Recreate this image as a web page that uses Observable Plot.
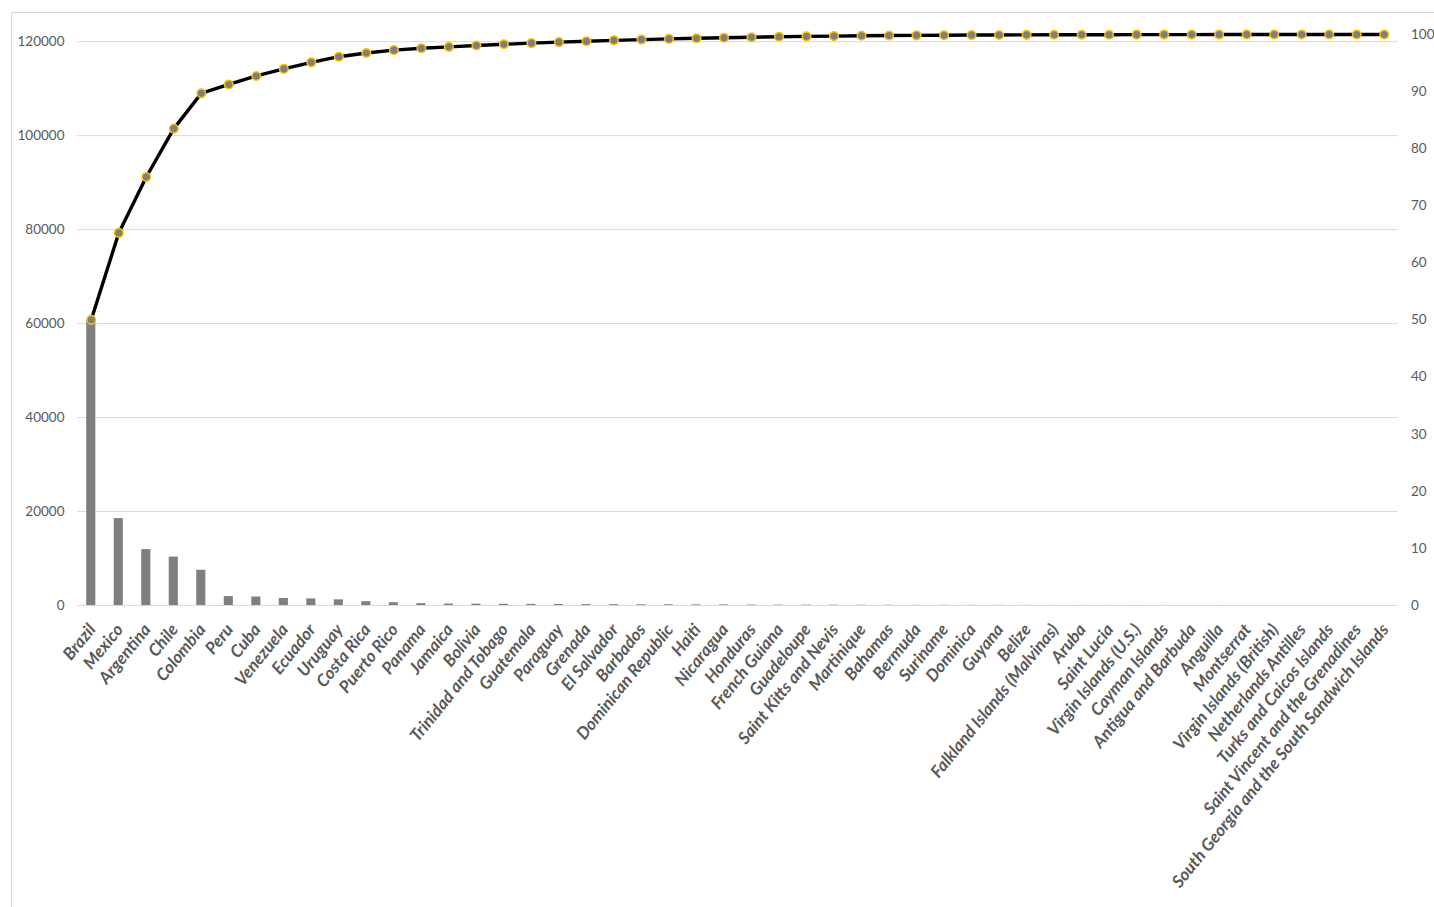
<!DOCTYPE html>
<html>
<head>
<meta charset="utf-8">
<script src="https://cdn.jsdelivr.net/npm/d3@7"></script>
<script src="https://cdn.jsdelivr.net/npm/@observablehq/plot@0.6"></script>
<style>
  html, body { margin: 0; padding: 0; background: #fff; overflow: hidden; }
  #frame { position: absolute; left: 11px; top: 12px; width: 1440px; height: 900px; border: 1.5px solid #d9d9d9; box-sizing: border-box; }
  #chart { position: absolute; left: 0; top: 0; }
</style>
</head>
<body>
<div id="frame"></div>
<div id="chart"></div>
<script>
const countries = [
  "Brazil", "Mexico", "Argentina", "Chile", "Colombia", "Peru", "Cuba", "Venezuela",
  "Ecuador", "Uruguay", "Costa Rica", "Puerto Rico", "Panama", "Jamaica", "Bolivia",
  "Trinidad and Tobago", "Guatemala", "Paraguay", "Grenada", "El Salvador", "Barbados",
  "Dominican Republic", "Haiti", "Nicaragua", "Honduras", "French Guiana", "Guadeloupe",
  "Saint Kitts and Nevis", "Martinique", "Bahamas", "Bermuda", "Suriname", "Dominica",
  "Guyana", "Belize", "Falkland Islands (Malvinas)", "Aruba", "Saint Lucia",
  "Virgin Islands (U.S.)", "Cayman Islands", "Antigua and Barbuda", "Anguilla",
  "Montserrat", "Virgin Islands (British)", "Netherlands Antilles",
  "Turks and Caicos Islands", "Saint Vincent and the Grenadines",
  "South Georgia and the South Sandwich Islands"
];
const values = [
  60800, 18500, 11900, 10300, 7500, 1900, 1800, 1500,
  1400, 1200, 800, 600, 400, 300, 280,
  260, 240, 220, 200, 180, 160,
  150, 140, 120, 100, 90, 80,
  70, 60, 50, 40, 35, 30,
  25, 20, 15, 12, 10,
  8, 7, 6, 5,
  4, 3, 2,
  2, 1,
  1
];
const leftTicks = [0, 20000, 40000, 60000, 80000, 100000, 120000];
const pctTicks = [0, 10, 20, 30, 40, 50, 60, 70, 80, 90, 100];

const total = d3.sum(values);
let running = 0;
const data = countries.map((c, i) => {
  running += values[i];
  return { country: c, value: values[i], cum: running };
});

const font = "Lato, 'Open Sans', sans-serif";
const chart = Plot.plot({
  width: 1434,
  height: 907,
  marginLeft: 77,
  marginRight: 36.5,
  marginTop: 34,
  marginBottom: 302,
  style: { fontFamily: font, background: "transparent", overflow: "visible" },
  x: { type: "band", domain: countries, paddingInner: 0, paddingOuter: 0, round: false, axis: null },
  y: { domain: [0, total], axis: null },
  marks: [
    Plot.gridY(leftTicks, { stroke: "#d9d9d9", strokeOpacity: 1, strokeWidth: 1 }),
    Plot.axisY({ ticks: leftTicks, tickSize: 0, tickPadding: 13, tickFormat: d => String(d),
      fontSize: 13.5, color: "#595959", label: null }),
    Plot.axisY({ anchor: "right", ticks: pctTicks.map(p => p * total / 100),
      tickFormat: d => String(Math.round(d * 100 / total)),
      tickSize: 0, tickPadding: 13, fontSize: 13.5, color: "#595959", label: null }),
    Plot.axisX({ tickRotate: -51, tickSize: 0, tickPadding: 21, dx: 1, label: null,
      fontSize: 17, fontWeight: "bold", fontStyle: "italic", color: "#595959" }),
    Plot.barY(data, { x: "country", y: "value", fill: "#7f7f7f", insetLeft: 9.2, insetRight: 9.2 }),
    Plot.line(data, { x: "country", y: "cum", stroke: "#000", strokeWidth: 3.4 }),
    Plot.dot(data, { x: "country", y: "cum", r: 4.3, fill: "#7f7f7f", stroke: "#ffc000", strokeWidth: 1.5 })
  ]
});
document.getElementById("chart").appendChild(chart);
</script>
</body>
</html>
